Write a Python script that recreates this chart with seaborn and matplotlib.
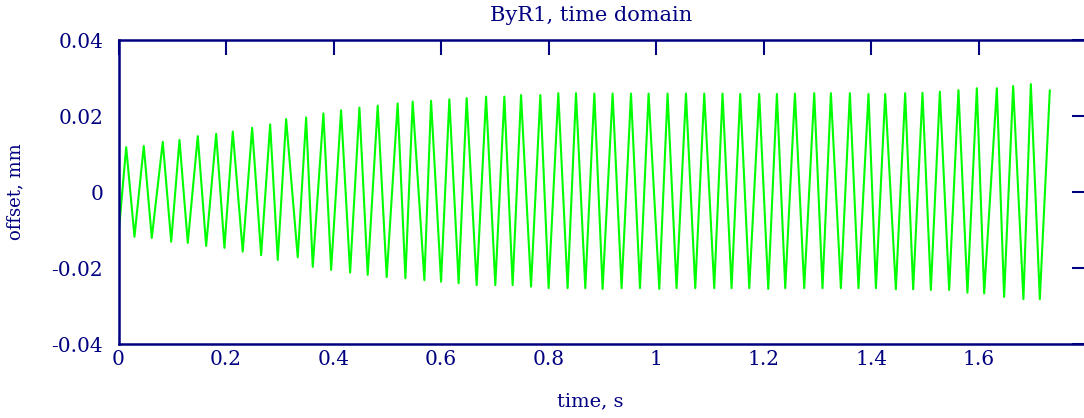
import numpy as np
import pandas as pd
import matplotlib
matplotlib.use("Agg")
import matplotlib.pyplot as plt
import seaborn as sns

# ---- data (extrema of the oscillation) ----
start_t = [0.0]
start_v = [-0.0113]

peak_t = [0.0143, 0.0470, 0.0823, 0.1134, 0.1474, 0.1816, 0.2125, 0.2485, 0.2820, 0.3117,
          0.3489, 0.3810, 0.4139, 0.4480, 0.4820, 0.5191, 0.5470, 0.5812, 0.6152, 0.6474,
          0.6835, 0.7175, 0.7485, 0.7844, 0.8178, 0.8507, 0.8848, 0.9188, 0.9530, 0.9857,
          1.0210, 1.0552, 1.0892, 1.1232, 1.1561, 1.1914, 1.2243, 1.2578, 1.2937, 1.3247,
          1.3600, 1.3946, 1.4257, 1.4628, 1.4950, 1.5273, 1.5619, 1.5961, 1.6333, 1.6636,
          1.6965, 1.7318]
peak_v = [0.0118, 0.0121, 0.0132, 0.0137, 0.0147, 0.0153, 0.0159, 0.0169, 0.0178, 0.0192,
          0.0196, 0.0207, 0.0215, 0.0222, 0.0227, 0.0233, 0.0238, 0.0240, 0.0244, 0.0247,
          0.0251, 0.0251, 0.0255, 0.0255, 0.0260, 0.0260, 0.0259, 0.0259, 0.0259, 0.0259,
          0.0259, 0.0259, 0.0259, 0.0259, 0.0258, 0.0258, 0.0258, 0.0259, 0.0260, 0.0260,
          0.0260, 0.0258, 0.0258, 0.0260, 0.0261, 0.0264, 0.0268, 0.0273, 0.0273, 0.0279,
          0.0284, 0.0268]

trough_t = [0.0297, 0.0619, 0.0980, 0.1288, 0.1630, 0.1970, 0.2310, 0.2652, 0.2961, 0.3333,
            0.3612, 0.3954, 0.4307, 0.4634, 0.4987, 0.5335, 0.5688, 0.5998, 0.6325, 0.6660,
            0.7007, 0.7329, 0.7671, 0.7998, 0.8351, 0.8680, 0.9002, 0.9355, 0.9697, 1.0056,
            1.0377, 1.0725, 1.1078, 1.1400, 1.1729, 1.2082, 1.2398, 1.2751, 1.3091, 1.3433,
            1.3760, 1.4084, 1.4455, 1.4777, 1.5106, 1.5446, 1.5786, 1.6097, 1.6468, 1.6827,
            1.7132]
trough_v = [-0.0118, -0.0121, -0.0131, -0.0134, -0.0142, -0.0147, -0.0157, -0.0166, -0.0179, -0.0172,
            -0.0197, -0.0205, -0.0212, -0.0218, -0.0224, -0.0227, -0.0232, -0.0236, -0.0240, -0.0245,
            -0.0245, -0.0245, -0.0249, -0.0253, -0.0253, -0.0253, -0.0255, -0.0253, -0.0253, -0.0255,
            -0.0253, -0.0253, -0.0253, -0.0253, -0.0253, -0.0255, -0.0253, -0.0253, -0.0253, -0.0253,
            -0.0253, -0.0253, -0.0256, -0.0256, -0.0258, -0.0258, -0.0265, -0.0267, -0.0276, -0.0282,
            -0.0282]

x_ticks = [0, 0.2, 0.4, 0.6, 0.8, 1.0, 1.2, 1.4, 1.6]
x_tick_labels = ["0", "0.2", "0.4", "0.6", "0.8", "1", "1.2", "1.4", "1.6"]
y_ticks = [-0.04, -0.02, 0, 0.02, 0.04]
y_tick_labels = ["-0.04", "-0.02", "0", "0.02", "0.04"]

df = pd.DataFrame({
    "time": start_t + peak_t + trough_t,
    "offset": start_v + peak_v + trough_v,
}).sort_values("time").reset_index(drop=True)

# ---- styling ----
sns.set_style("white")
plt.rcParams["font.family"] = ["DejaVu Serif"]
navy = "#000080"

fig = plt.figure(figsize=(10.84, 4.18), dpi=100)
ax = fig.add_axes([118.5 / 1084, 1 - 344 / 418, 968 / 1084, 304 / 418])

sns.lineplot(data=df, x="time", y="offset", ax=ax, color="#00ff00",
             linewidth=1.5, estimator=None, sort=False)

ax.set_xlim(0, 1.8)
ax.set_ylim(-0.04, 0.04)
ax.set_xticks(x_ticks)
ax.set_xticklabels(x_tick_labels)
ax.set_yticks(y_ticks)
ax.set_yticklabels(y_tick_labels)

for s in ax.spines.values():
    s.set_color(navy)
    s.set_linewidth(1.8)

ax.tick_params(axis="both", which="major", direction="in", length=11, width=1.5,
               color=navy, labelcolor=navy, labelsize=14.5,
               top=True, right=True)
ax.tick_params(axis="x", pad=4)
ax.tick_params(axis="y", pad=11)

ax.set_xlabel("time, s", color=navy, fontsize=14)
ax.xaxis.set_label_coords(0.487, -0.16)
ax.set_ylabel("offset, mm", color=navy, fontsize=13)
ax.yaxis.label.set_va("center")
ax.yaxis.set_label_coords(-0.107, 0.5)
ax.text(0.4886, 1.079, "ByR1, time domain", transform=ax.transAxes,
        ha="center", va="center", color=navy, fontsize=15)

fig.savefig("out.png", dpi=100)
